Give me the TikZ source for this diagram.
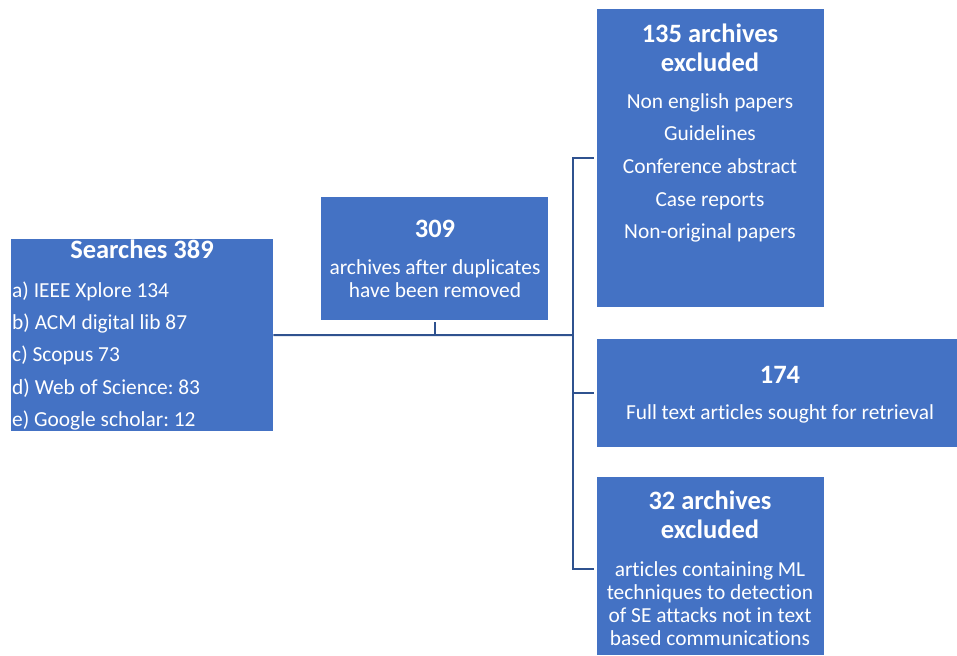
\documentclass[tikz,border=0pt]{standalone}
\usepackage{fontspec}
\setmainfont{Carlito}[Ligatures=NoCommon]
\frenchspacing
\definecolor{boxblue}{HTML}{4472C4}
\definecolor{lineblue}{HTML}{2F528F}
\begin{document}
\begin{tikzpicture}[x=1pt,y=-1pt,
  box/.style={fill=boxblue, draw=none, inner sep=0pt, anchor=north west},
  ttl/.style={text=white, font=\fontsize{26.5}{30}\selectfont\bfseries, anchor=base, inner sep=0pt},
  txt/.style={text=white, font=\fontsize{21.4}{24}\selectfont, anchor=base, inner sep=0pt},
  conn/.style={draw=lineblue, line width=2pt}]
\useasboundingbox (0,0) rectangle (957,655);
% boxes
\node[box, minimum width=262pt, minimum height=192pt] (search) at (11,239) {};
\node[box, minimum width=227pt, minimum height=123pt] (mid) at (321,197) {};
\node[box, minimum width=227pt, minimum height=298pt] (ex1) at (597,9) {};
\node[box, minimum width=360pt, minimum height=108pt] (full) at (597,339) {};
\node[box, minimum width=227pt, minimum height=178pt] (ex3) at (597,477) {};
% search texts
\node[ttl] (s0) at (142,258) {Searches 389};
\node[txt, anchor=base west] (s1) at (12,297) {a) IEEE Xplore 134};
\node[txt, anchor=base west] (s2) at (12,329) {b) ACM digital lib 87};
\node[txt, anchor=base west] (s3) at (12,361) {c) Scopus 73};
\node[txt, anchor=base west] (s4) at (12,394) {d) Web of Science: 83};
\node[txt, anchor=base west] (s5) at (12,426) {e) Google scholar: 12};
% mid texts
\node[ttl] (m0) at (435,237) {309};
\node[txt] (m1) at (435,274) {archives after duplicates};
\node[txt] (m2) at (435,297) {have been removed};
% excluded 1 texts
\node[ttl] (e0) at (710,43) {135 archives};
\node[ttl] (e1) at (710,72) {excluded};
\node[txt] (e2) at (710,109) {Non english papers};
\node[txt] (e3) at (710,141) {Guidelines};
\node[txt] (e4) at (710,173) {Conference abstract};
\node[txt] (e5) at (710,206) {Case reports};
\node[txt] (e6) at (710,238) {Non-original papers};
% full text
\node[ttl] (f0) at (780,383) {174};
\node[txt] (f1) at (780,419) {Full text articles sought for retrieval};
% excluded 3 texts
\node[ttl] (x0) at (710,509) {32 archives};
\node[ttl] (x1) at (710,538) {excluded};
\node[txt] (x2) at (710,576) {articles containing ML};
\node[txt] (x3) at (710,599) {techniques to detection};
\node[txt] (x4) at (710,622) {of SE attacks not in text};
\node[txt] (x5) at (710,645) {based communications};
% connectors
\coordinate (bus) at (573,335);
\draw[conn] (search.east) -- (bus);
\draw[conn] ([yshift=-2pt]mid.south) -- (mid.south |- bus);
\draw[conn, shorten >=3pt] (bus) |- (ex1.west);
\draw[conn, shorten >=3pt] (bus) |- (full.west);
\draw[conn, shorten >=3pt] (bus) |- ([yshift=-3pt]ex3.west);
\end{tikzpicture}
\end{document}
